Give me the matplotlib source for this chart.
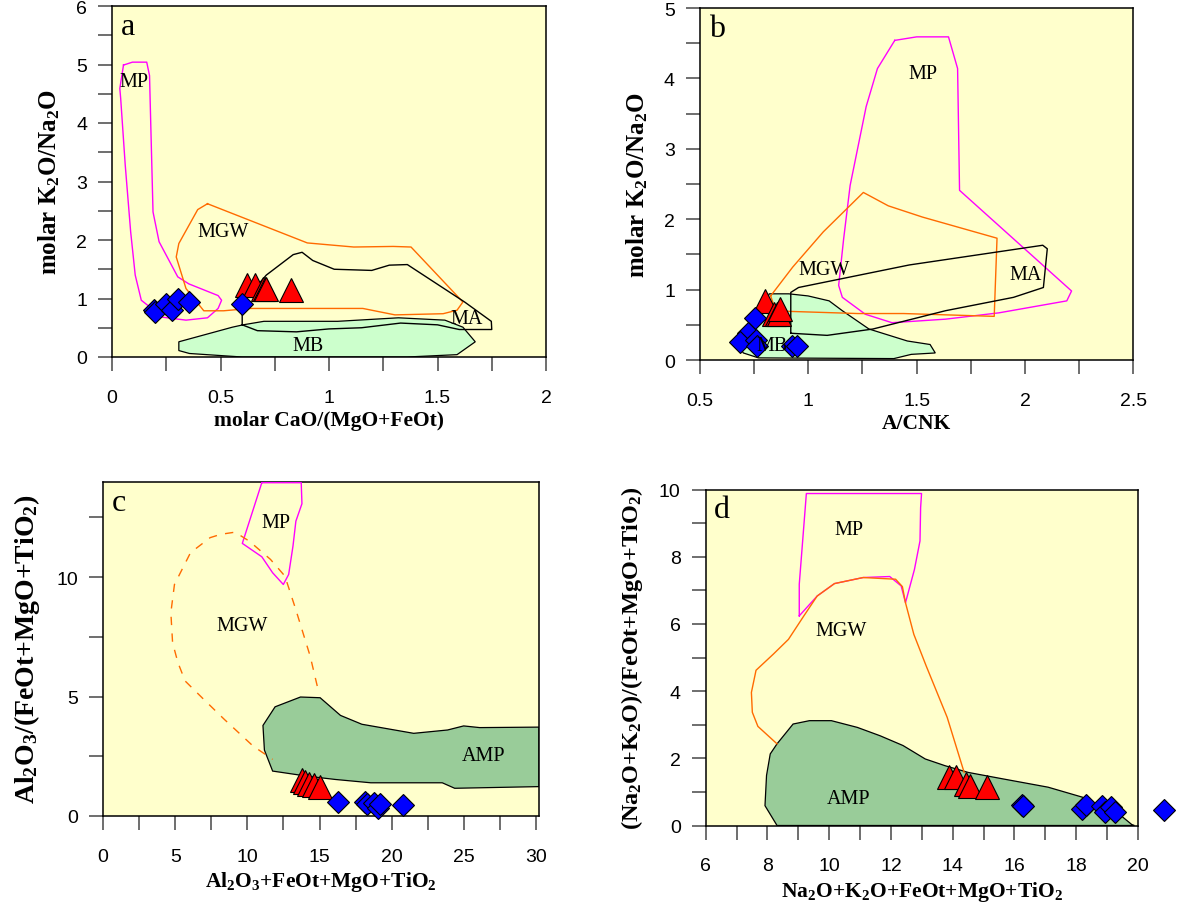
import matplotlib
matplotlib.use("Agg")
import matplotlib.pyplot as plt
from matplotlib.patches import Polygon
from matplotlib.ticker import MultipleLocator, FuncFormatter

plt.rcParams['font.family'] = ['Liberation Sans', 'DejaVu Sans']
plt.rcParams['mathtext.fontset'] = 'custom'
plt.rcParams['mathtext.rm'] = 'Liberation Serif:bold'
plt.rcParams['mathtext.it'] = 'Liberation Serif:bold:italic'
plt.rcParams['mathtext.bf'] = 'Liberation Serif:bold'

BG = '#ffffcc'
LIGHT_GREEN = '#ccffcc'
DARK_GREEN = '#99cc99'
MAGENTA = '#ff00ff'
ORANGE = '#ff6a00'

# ---- panel a: molar CaO/(MgO+FeOt) vs molar K2O/Na2O ----
a_mp = [(0.053, 4.99), (0.094, 5.04), (0.160, 5.04), (0.173, 4.81), (0.176, 4.36),
        (0.189, 2.48), (0.217, 1.97), (0.303, 1.37), (0.354, 1.25), (0.489, 1.05),
        (0.505, 0.97), (0.489, 0.83), (0.44, 0.67), (0.341, 0.63), (0.234, 0.68),
        (0.135, 0.97), (0.107, 1.40), (0.086, 2.14), (0.061, 3.28), (0.04, 4.42),
        (0.036, 4.59)]
a_mgw = [(0.44, 2.62), (0.395, 2.52), (0.308, 1.94), (0.296, 1.71), (0.341, 1.17),
         (0.423, 0.79), (0.514, 0.79), (0.637, 0.83), (1.156, 0.83), (1.304, 0.72),
         (1.526, 0.74), (1.59, 0.80), (1.617, 0.94), (1.378, 1.88), (1.296, 1.89),
         (1.114, 1.88), (0.90, 1.95)]
a_ma = [(0.60, 0.55), (0.60, 0.92), (0.711, 1.40), (0.835, 1.75), (0.876, 1.79),
        (0.925, 1.65), (1.024, 1.50), (1.197, 1.48), (1.278, 1.57), (1.361, 1.58),
        (1.625, 0.94), (1.748, 0.61), (1.75, 0.47), (1.60, 0.47), (1.50, 0.55),
        (1.33, 0.58), (1.15, 0.50), (1.0, 0.48), (0.85, 0.43), (0.67, 0.45)]
a_mb = [(0.308, 0.26), (0.555, 0.51), (0.604, 0.55), (0.70, 0.61), (1.04, 0.61),
        (1.32, 0.67), (1.534, 0.63), (1.617, 0.51), (1.674, 0.26), (1.59, 0.04),
        (1.36, 0.0), (0.60, 0.0), (0.357, 0.06), (0.308, 0.11)]
a_tri_x = [0.62, 0.657, 0.695, 0.703, 0.711, 0.826]
a_tri_y = [1.23, 1.23, 1.17, 1.17, 1.17, 1.14]
a_dia_x = [0.193, 0.20, 0.25, 0.275, 0.303, 0.354, 0.60]
a_dia_y = [0.80, 0.77, 0.91, 0.80, 1.00, 0.94, 0.91]

# ---- panel b: A/CNK vs molar K2O/Na2O ----
b_mp = [(1.399, 4.54), (1.50, 4.59), (1.647, 4.59), (1.689, 4.14), (1.698, 2.41),
        (2.215, 0.98), (2.193, 0.84), (1.88, 0.67), (1.633, 0.58), (1.386, 0.53),
        (1.263, 0.65), (1.157, 0.89), (1.14, 1.06), (1.163, 1.72), (1.193, 2.48),
        (1.267, 3.60), (1.319, 4.14)]
b_mgw = [(0.826, 0.91), (0.928, 1.32), (1.069, 1.82), (1.254, 2.38), (1.369, 2.19),
         (1.527, 2.03), (1.871, 1.73), (1.858, 0.62), (1.439, 0.66), (1.228, 0.66),
         (0.919, 0.69), (0.85, 0.70)]
b_ma = [(0.919, 0.38), (0.919, 0.96), (0.955, 1.03), (1.466, 1.35), (2.082, 1.63),
        (2.103, 1.58), (2.085, 1.03), (1.947, 0.89), (1.633, 0.70), (1.298, 0.44),
        (1.087, 0.35)]
b_mb = [(0.82, 0.94), (0.91, 0.94), (0.999, 0.91), (1.096, 0.84), (1.157, 0.70),
        (1.28, 0.44), (1.457, 0.27), (1.562, 0.22), (1.586, 0.10), (1.475, 0.08),
        (1.395, 0.02), (0.77, 0.03), (0.70, 0.10), (0.69, 0.15)]
b_tri_x = [0.80, 0.84, 0.855, 0.865, 0.87]
b_tri_y = [0.84, 0.66, 0.65, 0.66, 0.73]
b_dia_x = [0.755, 0.72, 0.685, 0.76, 0.764, 0.925, 0.95]
b_dia_y = [0.59, 0.38, 0.26, 0.29, 0.20, 0.20, 0.20]

# ---- panel c: Al2O3+FeOt+MgO+TiO2 vs Al2O3/(FeOt+MgO+TiO2) ----
c_mp = [(11.0, 13.95), (13.73, 13.95), (13.78, 13.07), (13.36, 12.34), (13.16, 11.30),
        (12.86, 10.11), (12.49, 9.69), (11.75, 10.18), (11.0, 10.85), (9.65, 11.41)]
c_mgw = [(14.84, 5.44), (14.35, 6.69), (13.35, 8.65), (12.6, 10.04), (11.6, 10.74),
         (10.14, 11.5), (9.15, 11.88), (8.16, 11.79), (7.42, 11.65), (6.06, 11.02),
         (4.95, 9.69), (4.70, 8.51), (4.82, 7.25), (5.19, 6.42), (5.69, 5.65),
         (6.93, 4.91), (8.41, 4.04), (10.39, 2.93), (11.75, 2.37)]
c_amp = [(11.92, 4.57), (13.68, 4.98), (15.04, 4.95), (16.45, 4.21), (17.93, 3.84),
         (21.52, 3.46), (23.87, 3.60), (24.98, 3.77), (26.09, 3.70), (30.2, 3.72),
         (30.2, 1.23), (24.36, 1.16), (23.5, 1.39), (20.03, 1.39), (18.55, 1.39),
         (16.08, 1.53), (14.1, 1.67), (11.75, 1.88), (11.18, 2.76), (11.08, 3.79)]
c_tri_x = [13.8, 14.0, 14.3, 14.6, 15.0]
c_tri_y = [1.50, 1.42, 1.35, 1.30, 1.20]
c_dia_x = [16.25, 18.18, 18.3, 18.8, 19.05, 19.17, 20.78]
c_dia_y = [0.60, 0.60, 0.49, 0.56, 0.35, 0.52, 0.45]

# ---- panel d: Na2O+K2O+FeOt+MgO+TiO2 vs (Na2O+K2O)/(FeOt+MgO+TiO2) ----
d_mp = [(9.03, 6.24), (9.03, 7.18), (9.26, 9.88), (12.99, 9.88), (12.96, 9.46),
        (12.94, 8.47), (12.76, 7.62), (12.47, 6.63), (12.33, 7.13), (11.96, 7.41),
        (11.1, 7.38), (10.17, 7.20), (9.61, 6.83)]
d_mgw = [(8.31, 2.43), (7.69, 2.95), (7.51, 3.37), (7.48, 3.96), (7.63, 4.62),
         (8.19, 5.10), (8.68, 5.54), (9.18, 6.24), (9.61, 6.83), (10.17, 7.2),
         (11.1, 7.38), (12.15, 7.33), (12.37, 7.11), (12.47, 6.63), (12.74, 5.69),
         (13.14, 4.75), (13.82, 3.22), (14.37, 1.58)]
d_amp = [(8.31, 0.0), (7.92, 0.59), (7.97, 1.49), (8.09, 2.13), (8.31, 2.43),
         (8.83, 3.02), (9.36, 3.12), (10.07, 3.12), (10.91, 2.92), (11.65, 2.67),
         (12.39, 2.38), (13.11, 1.98), (13.75, 1.78), (14.5, 1.58), (15.61, 1.39),
         (17.09, 1.14), (18.21, 0.84), (19.44, 0.30), (19.81, 0.02), (19.88, 0.0)]
d_tri_x = [13.88, 14.12, 14.43, 14.56, 15.11]
d_tri_y = [1.44, 1.44, 1.24, 1.19, 1.14]
d_dia_x = [16.23, 16.29, 18.2, 18.32, 18.82, 18.94, 19.13, 19.26, 20.83]
d_dia_y = [0.61, 0.57, 0.50, 0.61, 0.59, 0.40, 0.54, 0.40, 0.45]


def outline(ax, pts, color, closed=True, ls='-', lw=1.0):
    xs = [p[0] for p in pts]
    ys = [p[1] for p in pts]
    if closed:
        xs.append(xs[0]); ys.append(ys[0])
    ax.plot(xs, ys, color=color, lw=lw, ls=ls, zorder=3)


def filled(ax, pts, color):
    ax.add_patch(Polygon(pts, closed=True, facecolor=color, edgecolor='black',
                         lw=0.9, zorder=2))


def samples(ax, tx, ty, dx, dy):
    ax.plot(tx, ty, ls='none', marker='^', ms=17, mfc='#ff0000', mec='black',
            mew=0.8, zorder=5)
    ax.plot(dx, dy, ls='none', marker='D', ms=11.5, mfc='#0000ff', mec='black',
            mew=0.8, zorder=6, clip_on=False)


def region_label(ax, x, y, s):
    ax.text(x, y, s, family='Liberation Serif', fontsize=14.5, ha='center',
            va='center', zorder=7)


def setup(ax, xlim, ylim, xmaj, xmin, ymaj, ymin, xlabel, ylabel, letter, top_px,
          ysize):
    ax.set_facecolor(BG)
    ax.set_xlim(*xlim); ax.set_ylim(*ylim)
    ax.xaxis.set_major_locator(MultipleLocator(xmaj))
    ax.xaxis.set_minor_locator(MultipleLocator(xmin))
    ax.yaxis.set_major_locator(MultipleLocator(ymaj))
    ax.yaxis.set_minor_locator(MultipleLocator(ymin))
    fmt = FuncFormatter(lambda v, p: '%g' % round(v, 3))
    ax.xaxis.set_major_formatter(fmt); ax.yaxis.set_major_formatter(fmt)
    ax.tick_params(which='both', direction='out', length=10, width=1.2,
                   color='#555555', labelsize=14)
    ax.tick_params(axis='x', which='major', pad=13)
    ax.tick_params(axis='y', which='major', pad=8)
    for s in ax.spines.values():
        s.set_linewidth(1.1)
    ax.set_xlabel(xlabel, family='Liberation Serif', fontweight='bold',
                  fontsize=15.5, labelpad=3)
    ax.set_ylabel(ylabel, family='Liberation Serif', fontweight='bold',
                  fontsize=ysize, labelpad=10)
    ax.text(0.02, 1 - 28.0 / top_px, letter, transform=ax.transAxes,
            family='Liberation Serif', fontsize=23, va='baseline', ha='left',
            zorder=8)


fig = plt.figure(figsize=(11.89, 9.12), dpi=100)
W, H = 1189.0, 912.0


def axes_px(l, r, t, b):
    return fig.add_axes([l / W, (H - b) / H, (r - l) / W, (b - t) / H])


# panel a
ax = axes_px(112, 546, 7, 358)
setup(ax, (0, 2), (0, 6), 0.5, 0.25, 1, 0.5, 'molar CaO/(MgO+FeOt)',
      'molar K$_2$O/Na$_2$O', 'a', 351, 18)
filled(ax, a_mb, LIGHT_GREEN)
outline(ax, a_mp, MAGENTA)
outline(ax, a_mgw, ORANGE)
outline(ax, a_ma, 'black')
region_label(ax, 0.102, 4.71, 'MP')
region_label(ax, 0.514, 2.14, 'MGW')
region_label(ax, 1.634, 0.66, 'MA')
region_label(ax, 0.904, 0.20, 'MB')
samples(ax, a_tri_x, a_tri_y, a_dia_x, a_dia_y)

# panel b
ax = axes_px(700, 1133.3, 9, 361)
setup(ax, (0.5, 2.5), (0, 5), 0.5, 0.25, 1, 0.5, 'A/CNK',
      'molar K$_2$O/Na$_2$O', 'b', 352, 18)
filled(ax, b_mb, LIGHT_GREEN)
outline(ax, b_mp, MAGENTA)
outline(ax, b_mgw, ORANGE)
outline(ax, b_ma, 'black')
region_label(ax, 1.527, 4.07, 'MP')
region_label(ax, 1.073, 1.28, 'MGW')
region_label(ax, 2.003, 1.21, 'MA')
region_label(ax, 0.831, 0.21, 'MB')
samples(ax, b_tri_x, b_tri_y, b_dia_x, b_dia_y)

# panel c
ax = axes_px(103, 539, 482.5, 817)
setup(ax, (0, 30.2), (0, 14), 5, 2.5, 5, 2.5, 'Al$_2$O$_3$+FeOt+MgO+TiO$_2$',
      'Al$_2$O$_3$/(FeOt+MgO+TiO$_2$)', 'c', 334, 20)
filled(ax, c_amp, DARK_GREEN)
outline(ax, c_mp, MAGENTA)
outline(ax, c_mgw, ORANGE, closed=False, ls=(0, (6, 6)))
region_label(ax, 12.0, 12.27, 'MP')
region_label(ax, 9.65, 7.98, 'MGW')
region_label(ax, 26.39, 2.54, 'AMP')
samples(ax, c_tri_x, c_tri_y, c_dia_x, c_dia_y)

# panel d
ax = axes_px(705.7, 1138, 490.5, 826.5)
setup(ax, (6, 20), (0, 10), 2, 1, 2, 1, 'Na$_2$O+K$_2$O+FeOt+MgO+TiO$_2$',
      '(Na$_2$O+K$_2$O)/(FeOt+MgO+TiO$_2$)', 'd', 336, 17.5)
filled(ax, d_amp, DARK_GREEN)
outline(ax, d_mp, MAGENTA)
outline(ax, d_mgw, ORANGE, closed=False)
region_label(ax, 10.64, 8.81, 'MP')
region_label(ax, 10.37, 5.81, 'MGW')
region_label(ax, 10.64, 0.79, 'AMP')
samples(ax, d_tri_x, d_tri_y, d_dia_x, d_dia_y)

fig.savefig('out.png', dpi=100)
